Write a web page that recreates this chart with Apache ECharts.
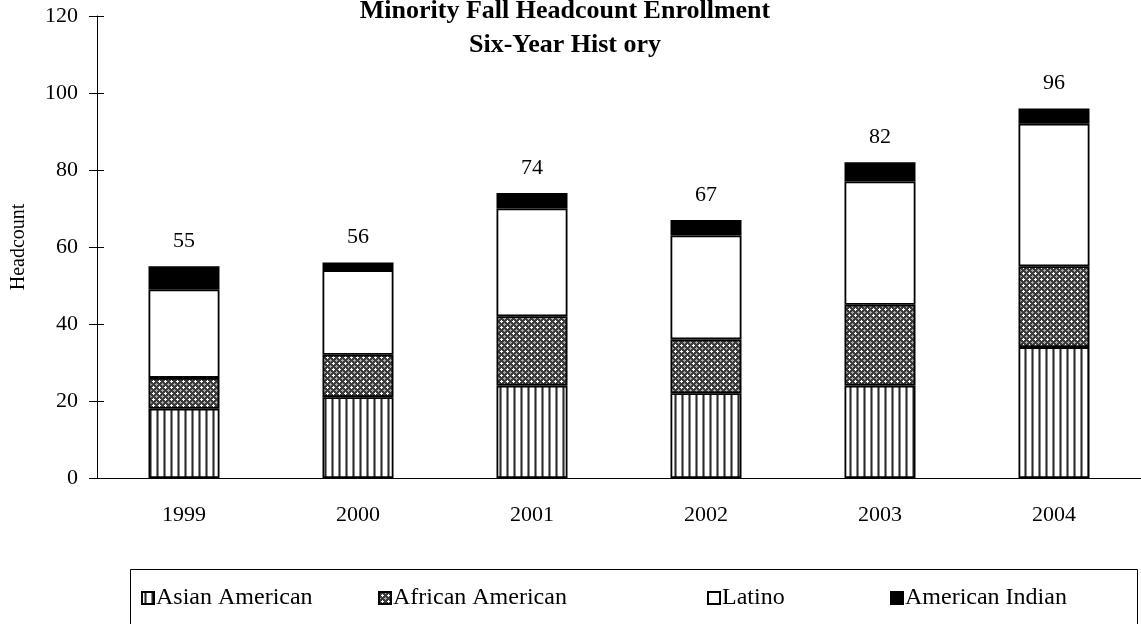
<!DOCTYPE html>
<html>
<head>
<meta charset="utf-8">
<script src="https://cdn.jsdelivr.net/npm/echarts@6/dist/echarts.min.js"></script>
<style>
  html, body { margin: 0; padding: 0; background: #fff; }
  #chart { width: 1141px; height: 624px; }
</style>
</head>
<body>
<div id="chart"></div>
<script>
// Fall headcount by group, 1999-2004
const years = ['1999', '2000', '2001', '2002', '2003', '2004'];
const asianAmerican = [18, 21, 24, 22, 24, 34];
const africanAmerican = [8, 11, 18, 14, 21, 21];
const latino = [23, 22, 28, 27, 32, 37];
const americanIndian = [6, 2, 4, 4, 5, 4];
const yTicks = [0, 20, 40, 60, 80, 100, 120];

const totals = years.map((_, i) =>
  asianAmerican[i] + africanAmerican[i] + latino[i] + americanIndian[i]);

// Vertical hatch fill
function stripeTile() {
  const c = document.createElement('canvas');
  c.width = 7; c.height = 4;
  const g = c.getContext('2d');
  g.fillStyle = '#fff'; g.fillRect(0, 0, 7, 4);
  g.fillStyle = '#8a8a8a'; g.fillRect(2, 0, 1, 4); g.fillRect(4, 0, 1, 4);
  g.fillStyle = '#2a2a2a'; g.fillRect(3, 0, 1, 4);
  return c;
}

// Dotted crosshatch fill
function crossTile() {
  const c = document.createElement('canvas');
  c.width = 6; c.height = 6;
  const g = c.getContext('2d');
  g.fillStyle = '#3c3c3c'; g.fillRect(0, 0, 6, 6);
  g.fillStyle = '#fff';
  [[3, 2], [2, 3], [3, 3], [4, 3], [3, 4]].forEach(p => g.fillRect(p[0], p[1], 1, 1));
  g.fillStyle = '#a8a8a8';
  [[0, 0], [1, 0], [0, 1], [5, 0], [0, 5]].forEach(p => g.fillRect(p[0], p[1], 1, 1));
  return c;
}

const font = 'Liberation Serif';
const border = { borderColor: '#000', borderWidth: 1.8 };

function barSeries(name, data, fill, extra) {
  return Object.assign({
    name: name,
    type: 'bar',
    stack: 'total',
    barWidth: 71,
    data: data,
    itemStyle: Object.assign({ color: fill }, border),
    emphasis: { disabled: true }
  }, extra || {});
}

function legendAt(name, left) {
  return {
    data: [{ name: name, icon: 'rect' }],
    left: left,
    top: 586,
    itemWidth: 12,
    itemHeight: 12,
    itemGap: 0,
    padding: 0,
    selectedMode: false,
    itemStyle: { borderColor: '#000', borderWidth: 2 },
    textStyle: { fontFamily: font, fontSize: 24, color: '#000', padding: [0, 0, 0, -3] }
  };
}

const chart = echarts.init(document.getElementById('chart'), null, { renderer: 'canvas' });
chart.setOption({
  animation: false,
  backgroundColor: '#fff',
  title: {
    text: 'Minority Fall Headcount Enrollment\nSix-Year Hist ory',
    left: 565,
    textAlign: 'center',
    top: -6,
    padding: 0,
    textStyle: { fontFamily: font, fontWeight: 'bold', fontSize: 26, lineHeight: 34, color: '#000' }
  },
  grid: { left: 97, right: 0, top: 16, bottom: 146, containLabel: false },
  graphic: [{
    type: 'rect',
    shape: { x: 130.5, y: 569.5, width: 1007, height: 70 },
    style: { fill: 'none', stroke: '#000', lineWidth: 1 },
    silent: true
  }],
  legend: [
    legendAt('Asian American', 141),
    legendAt('African American', 378),
    legendAt('Latino', 707),
    legendAt('American Indian', 890)
  ],
  xAxis: {
    type: 'category',
    data: years,
    boundaryGap: true,
    axisLine: { lineStyle: { color: '#000', width: 1 } },
    axisTick: { length: 8, lineStyle: { color: '#000' } },
    axisLabel: { fontFamily: font, fontSize: 22, color: '#000', margin: 26 }
  },
  yAxis: [{
    type: 'value',
    min: 0,
    max: 120,
    interval: 20,
    name: 'Headcount',
    nameLocation: 'middle',
    nameGap: 68,
    nameTextStyle: { fontFamily: font, fontSize: 20, color: '#000' },
    axisLine: { show: true, lineStyle: { color: '#000', width: 1 } },
    axisTick: { show: true, length: 8, lineStyle: { color: '#000' } },
    axisLabel: {
      fontFamily: font, fontSize: 22, color: '#000', margin: 19,
      formatter: v => yTicks.includes(v) ? String(v) : ''
    },
    splitLine: { show: false }
  }, {
    type: 'value',
    position: 'left',
    min: 0,
    max: 120,
    interval: 20,
    axisLine: { show: false },
    axisTick: { show: true, inside: true, length: 7, lineStyle: { color: '#000' } },
    axisLabel: { show: false },
    splitLine: { show: false }
  }],
  series: [
    barSeries('Asian American', asianAmerican, { image: stripeTile(), repeat: 'repeat' }),
    barSeries('African American', africanAmerican, { image: crossTile(), repeat: 'repeat' }),
    barSeries('Latino', latino, '#fff'),
    barSeries('American Indian', americanIndian, '#000', {
      label: {
        show: true,
        position: 'top',
        distance: 14,
        fontFamily: font,
        fontSize: 22,
        color: '#000',
        formatter: p => String(totals[p.dataIndex])
      }
    })
  ]
});
</script>
</body>
</html>
